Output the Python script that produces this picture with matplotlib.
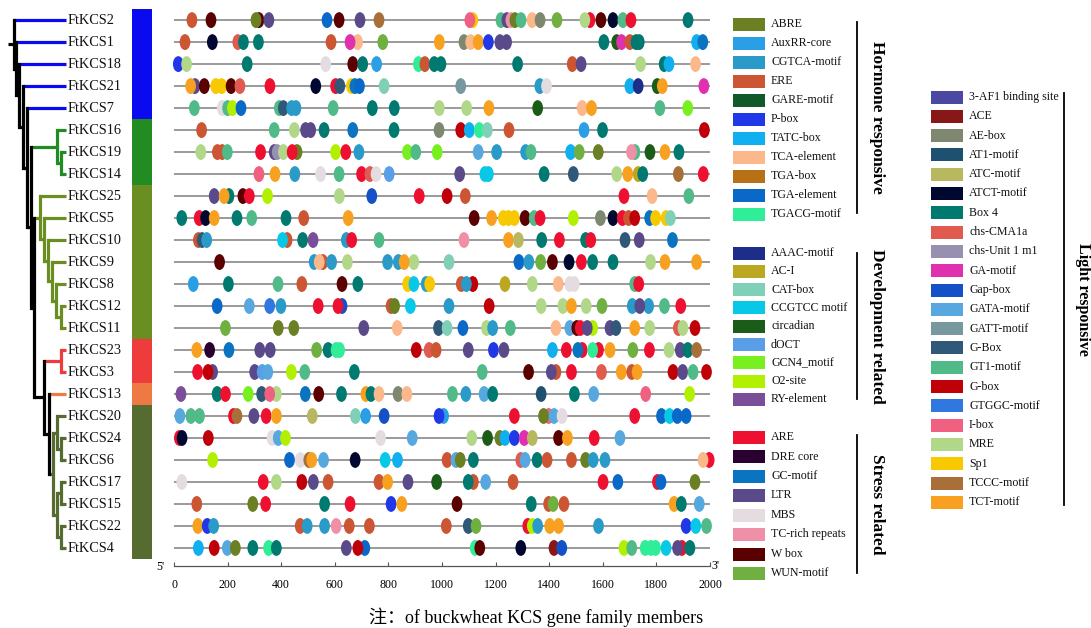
import matplotlib
matplotlib.use("Agg")
import matplotlib.pyplot as plt
from matplotlib.patches import Ellipse, Rectangle

plt.rcParams['font.family'] = ['Liberation Serif', 'Noto Sans CJK SC']

# ---------------------------------------------------------------- genes
genes = ["FtKCS2", "FtKCS1", "FtKCS18", "FtKCS21", "FtKCS7", "FtKCS16",
         "FtKCS19", "FtKCS14", "FtKCS25", "FtKCS5", "FtKCS10", "FtKCS9",
         "FtKCS8", "FtKCS12", "FtKCS11", "FtKCS23", "FtKCS3", "FtKCS13",
         "FtKCS20", "FtKCS24", "FtKCS6", "FtKCS17", "FtKCS15", "FtKCS22",
         "FtKCS4"]

# subfamily groups (gene counts) and their colours
group_sizes = [5, 3, 7, 2, 1, 7]
group_colors = ["#0a0af0", "#228b22", "#6b8e23", "#ee3b3b", "#ee7942", "#556b2f"]

# ---------------------------------------------------------------- element classes
hormone_names = ["ABRE", "AuxRR-core", "CGTCA-motif", "ERE", "GARE-motif", "P-box",
                 "TATC-box", "TCA-element", "TGA-box", "TGA-element", "TGACG-motif"]
hormone_colors = ["#6b7f23", "#2a9fe6", "#2a9bc8", "#cc5533", "#0f5a28", "#2038e8",
                  "#10aff0", "#fbb88a", "#b87016", "#0a68c8", "#30ee98"]

develop_names = ["AAAC-motif", "AC-I", "CAT-box", "CCGTCC motif", "circadian", "dOCT",
                 "GCN4_motif", "O2-site", "RY-element"]
develop_colors = ["#1c2e8a", "#bba820", "#80d0b8", "#08c8e8", "#1a5c18", "#5a9ee8",
                  "#78f020", "#b0f000", "#7a4e98"]

stress_names = ["ARE", "DRE core", "GC-motif", "LTR", "MBS", "TC-rich repeats",
                "W box", "WUN-motif"]
stress_colors = ["#ee1030", "#2a0030", "#0a74c0", "#5a4a8a", "#e4dce0", "#f090a8",
                 "#5a0000", "#70b040"]

light_names = ["3-AF1 binding site", "ACE", "AE-box", "AT1-motif", "ATC-motif",
               "ATCT-motif", "Box 4", "chs-CMA1a", "chs-Unit 1 m1", "GA-motif",
               "Gap-box", "GATA-motif", "GATT-motif", "G-Box", "GT1-motif", "G-box",
               "GTGGC-motif", "I-box", "MRE", "Sp1", "TCCC-motif", "TCT-motif"]
light_colors = ["#4a48a0", "#881818", "#7e8870", "#1e5070", "#b8b860", "#000830",
                "#007a70", "#e05a50", "#9890b0", "#e030b0", "#1450c8", "#58a8e0",
                "#7898a0", "#305878", "#50ba88", "#c00008", "#3078e0", "#f06080",
                "#b0d888", "#f8c800", "#a87038", "#f8a020"]

# ---------------------------------------------------------------- promoter sites (position in bp, element)
sites_FtKCS2 = [(67, "ERE"), (138, "W box"), (317, "W box"), (306, "ABRE"), (354, "LTR"),
                (571, "TGA-element"), (616, "W box"), (694, "LTR"), (765, "TCCC-motif"),
                (1115, "Sp1"), (1104, "I-box"), (1220, "GT1-motif"), (1242, "LTR"),
                (1257, "TC-rich repeats"), (1272, "ABRE"), (1295, "GT1-motif"),
                (1336, "TCA-element"), (1366, "AE-box"), (1429, "WUN-motif"), (1552, "ARE"),
                (1533, "MRE"), (1593, "W box"), (1638, "ATCT-motif"), (1675, "GT1-motif"),
                (1705, "ARE"), (1918, "Box 4")]
sites_FtKCS1 = [(41, "ERE"), (143, "ATCT-motif"), (238, "chs-CMA1a"), (259, "Box 4"),
                (315, "Box 4"), (586, "ERE"), (685, "TCA-element"), (657, "GA-motif"),
                (779, "WUN-motif"), (990, "TCT-motif"), (1082, "AE-box"), (1107, "TCA-element"),
                (1135, "TCT-motif"), (1173, "P-box"), (1216, "LTR"), (1241, "LTR"),
                (1604, "Box 4"), (1652, "circadian"), (1670, "GA-motif"), (1701, "ERE"),
                (1724, "Box 4"), (1736, "Box 4"), (1950, "TATC-box"), (1973, "GC-motif")]
sites_FtKCS18 = [(16, "P-box"), (47, "MRE"), (273, "Box 4"), (566, "MBS"), (667, "W box"),
                 (704, "Box 4"), (756, "AuxRR-core"), (912, "TGACG-motif"), (936, "ERE"),
                 (971, "Box 4"), (996, "Box 4"), (1282, "Box 4"), (1486, "ERE"), (1519, "LTR"),
                 (1741, "MRE"), (1829, "Box 4"), (1847, "TATC-box"), (1946, "TCA-element")]
sites_FtKCS21 = [(78, "LTR"), (62, "TCT-motif"), (113, "W box"), (156, "Sp1"), (178, "Sp1"),
                 (213, "W box"), (246, "chs-CMA1a"), (358, "ARE"), (529, "ATCT-motif"),
                 (603, "ARE"), (619, "G-Box"), (662, "Sp1"), (675, "GC-motif"),
                 (692, "TGA-element"), (784, "CAT-box"), (1070, "GATT-motif"),
                 (1365, "CGTCA-motif"), (1390, "MBS"), (1701, "TATC-box"), (1732, "AAAC-motif"),
                 (1803, "circadian"), (1822, "TCT-motif"), (1977, "GA-motif")]
sites_FtKCS7 = [(76, "GT1-motif"), (180, "MBS"), (200, "GT1-motif"), (218, "O2-site"),
                (250, "TGA-element"), (393, "GT1-motif"), (408, "G-Box"), (439, "CGTCA-motif"),
                (455, "CGTCA-motif"), (594, "GT1-motif"), (740, "Box 4"), (822, "Box 4"),
                (990, "MRE"), (1092, "MRE"), (1175, "TCT-motif"), (1357, "circadian"),
                (1523, "TCA-element"), (1558, "TCT-motif"), (1813, "GT1-motif"),
                (1917, "GCN4_motif")]
sites_FtKCS16 = [(103, "ERE"), (374, "GT1-motif"), (449, "MRE"), (491, "LTR"), (510, "LTR"),
                 (560, "Box 4"), (667, "GC-motif"), (821, "Box 4"), (989, "AE-box"),
                 (1070, "G-box"), (1102, "TATC-box"), (1139, "TGACG-motif"), (1169, "CAT-box"),
                 (1250, "ERE"), (1530, "AuxRR-core"), (1599, "Box 4"), (1979, "G-box")]
sites_FtKCS19 = [(100, "MRE"), (162, "ERE"), (180, "ERE"), (199, "GT1-motif"), (323, "ARE"),
                 (374, "LTR"), (385, "chs-Unit 1 m1"), (408, "MRE"), (459, "ABRE"), (441, "ARE"),
                 (603, "O2-site"), (641, "ARE"), (690, "CGTCA-motif"), (871, "GCN4_motif"),
                 (902, "GT1-motif"), (982, "GCN4_motif"), (1135, "GATA-motif"),
                 (1204, "CGTCA-motif"), (1312, "CGTCA-motif"), (1332, "GT1-motif"),
                 (1480, "TATC-box"), (1512, "WUN-motif"), (1583, "ABRE"), (1720, "GT1-motif"),
                 (1707, "TC-rich repeats"), (1776, "circadian"), (1832, "TCT-motif"),
                 (1884, "Box 4")]
sites_FtKCS14 = [(317, "I-box"), (377, "TCT-motif"), (451, "CGTCA-motif"), (547, "MBS"),
                 (616, "GT1-motif"), (700, "ARE"), (731, "chs-CMA1a"), (754, "MBS"),
                 (803, "dOCT"), (1066, "LTR"), (1160, "CCGTCC motif"), (1173, "CCGTCC motif"),
                 (1381, "Box 4"), (1490, "G-Box"), (1652, "MRE"), (1693, "TCT-motif"),
                 (1732, "AC-I"), (1749, "Box 4"), (1882, "TCCC-motif"), (1975, "ARE")]
sites_FtKCS25 = [(150, "LTR"), (205, "Box 4"), (187, "TCT-motif"), (257, "W box"), (281, "ARE"),
                 (349, "O2-site"), (617, "MRE"), (738, "Gap-box"), (915, "ARE"), (1019, "G-box"),
                 (1087, "ERE"), (1679, "ARE"), (1784, "TCA-element"), (1921, "GT1-motif")]
sites_FtKCS5 = [(29, "Box 4"), (94, "ARE"), (118, "ATCT-motif"), (150, "TCT-motif"),
                (235, "Box 4"), (290, "GT1-motif"), (418, "Box 4"), (484, "ERE"),
                (650, "TCT-motif"), (1120, "W box"), (1185, "TCT-motif"), (1229, "Sp1"),
                (1248, "Sp1"), (1270, "Sp1"), (1310, "W box"), (1344, "GT1-motif"), (1366, "ARE"),
                (1490, "O2-site"), (1591, "AE-box"), (1638, "ATCT-motif"), (1673, "ARE"),
                (1696, "ERE"), (1719, "G-box"), (1775, "GC-motif"), (1797, "Sp1"),
                (1836, "Sp1"), (1852, "CAT-box")]
sites_FtKCS10 = [(91, "ERE"), (105, "G-Box"), (122, "CGTCA-motif"), (422, "ERE"),
                 (405, "CCGTCC motif"), (480, "Box 4"), (519, "RY-element"),
                 (643, "CGTCA-motif"), (663, "ARE"), (765, "GT1-motif"), (1082, "TC-rich repeats"),
                 (1248, "TCT-motif"), (1285, "ATC-motif"), (1372, "Box 4"), (1438, "ARE"),
                 (1536, "Box 4"), (1555, "ARE"), (1683, "G-Box"), (1736, "LTR"), (1860, "GC-motif")]
sites_FtKCS9 = [(170, "W box"), (523, "CGTCA-motif"), (555, "ERE"), (542, "TCA-element"),
                (588, "CGTCA-motif"), (647, "MRE"), (797, "CGTCA-motif"), (837, "CGTCA-motif"),
                (895, "MRE"), (859, "TCT-motif"), (1026, "CAT-box"), (1287, "TGA-element"),
                (1324, "CGTCA-motif"), (1368, "WUN-motif"), (1412, "W box"), (1474, "ATCT-motif"),
                (1520, "ARE"), (1562, "Box 4"), (1638, "Box 4"), (1778, "MRE"),
                (1832, "TCT-motif"), (1950, "TCT-motif")]
sites_FtKCS8 = [(72, "AuxRR-core"), (203, "Box 4"), (388, "GT1-motif"), (477, "ERE"),
                (627, "W box"), (686, "Box 4"), (872, "Sp1"), (895, "CCGTCC motif"),
                (941, "CGTCA-motif"), (954, "Sp1"), (1115, "G-box"), (1072, "ERE"),
                (1091, "CGTCA-motif"), (1235, "AC-I"), (1337, "MRE"), (1434, "TCA-element"),
                (1477, "MBS"), (1494, "MBS"), (1719, "GT1-motif"), (1734, "ARE")]
sites_FtKCS12 = [(161, "TGA-element"), (281, "GATA-motif"), (357, "GTGGC-motif"),
                 (399, "CGTCA-motif"), (538, "ARE"), (627, "Gap-box"), (612, "ARE"),
                 (810, "ERE"), (823, "ABRE"), (882, "CCGTCC motif"), (1026, "CGTCA-motif"),
                 (1176, "G-box"), (1370, "MRE"), (1451, "MRE"), (1483, "TCT-motif"),
                 (1538, "MRE"), (1597, "WUN-motif"), (1710, "CGTCA-motif"), (1771, "CGTCA-motif"),
                 (1738, "LTR"), (1830, "GT1-motif"), (1891, "ARE")]
sites_FtKCS11 = [(192, "WUN-motif"), (389, "ABRE"), (447, "ABRE"), (708, "LTR"),
                 (833, "TCA-element"), (987, "G-Box"), (1019, "CAT-box"), (1078, "TGA-element"),
                 (1166, "MRE"), (1189, "CGTCA-motif"), (1255, "GT1-motif"), (1425, "TCA-element"),
                 (1477, "GATA-motif"), (1503, "W box"), (1516, "ARE"), (1562, "O2-site"),
                 (1542, "LTR"), (1627, "LTR"), (1649, "G-Box"), (1719, "TCT-motif"),
                 (1775, "MRE"), (1882, "chs-CMA1a"), (1899, "MRE"), (1944, "G-box")]
sites_FtKCS23 = [(85, "TCT-motif"), (133, "DRE core"), (205, "GC-motif"), (320, "LTR"),
                 (359, "LTR"), (532, "WUN-motif"), (575, "Box 4"), (605, "TGACG-motif"),
                 (618, "TGACG-motif"), (904, "G-box"), (952, "chs-CMA1a"), (978, "ERE"),
                 (1098, "LTR"), (1192, "P-box"), (1231, "LTR"), (1412, "TATC-box"), (1464, "ARE"),
                 (1523, "ARE"), (1507, "GC-motif"), (1584, "ARE"), (1562, "TGACG-motif"),
                 (1627, "TCT-motif"), (1712, "WUN-motif"), (1774, "ARE"), (1847, "MRE"),
                 (1889, "LTR"), (1917, "Box 4"), (1950, "TCCC-motif")]
sites_FtKCS3 = [(88, "ARE"), (144, "LTR"), (127, "G-box"), (301, "LTR"), (329, "dOCT"),
                (350, "GATA-motif"), (438, "O2-site"), (488, "GT1-motif"), (673, "Box 4"),
                (1150, "GT1-motif"), (1323, "W box"), (1425, "ERE"), (1408, "LTR"), (1483, "ARE"),
                (1595, "chs-CMA1a"), (1669, "TCT-motif"), (1708, "ERE"), (1728, "TCT-motif"),
                (1862, "G-box"), (1898, "LTR"), (1937, "GT1-motif"), (1987, "G-box")]
sites_FtKCS13 = [(26, "RY-element"), (161, "Box 4"), (192, "ARE"), (277, "GCN4_motif"),
                 (327, "G-Box"), (382, "MRE"), (357, "I-box"), (490, "GC-motif"), (540, "W box"),
                 (625, "Box 4"), (716, "TCT-motif"), (735, "Box 4"), (765, "TCA-element"),
                 (836, "AE-box"), (869, "TCA-element"), (1039, "GT1-motif"), (1089, "CGTCA-motif"),
                 (1157, "GATA-motif"), (1189, "Box 4"), (1370, "AT1-motif"), (1494, "Box 4"),
                 (1566, "GATA-motif"), (1760, "I-box"), (1924, "O2-site")]
sites_FtKCS20 = [(22, "GATA-motif"), (63, "GT1-motif"), (95, "GT1-motif"), (222, "ARE"),
                 (235, "TCCC-motif"), (298, "LTR"), (344, "ARE"), (382, "TCT-motif"),
                 (516, "ATC-motif"), (677, "CAT-box"), (715, "AuxRR-core"), (784, "Gap-box"),
                 (1006, "AuxRR-core"), (989, "P-box"), (1270, "ARE"), (1398, "I-box"),
                 (1379, "ABRE"), (1418, "GATA-motif"), (1448, "MBS"), (1719, "ARE"),
                 (1819, "TGA-element"), (1849, "CCGTCC motif"), (1878, "TGA-element"),
                 (1911, "TGA-element")]
sites_FtKCS24 = [(20, "ARE"), (30, "ATCT-motif"), (128, "G-box"), (366, "MBS"),
                 (389, "GATA-motif"), (416, "O2-site"), (771, "MBS"), (889, "GATA-motif"),
                 (1111, "MRE"), (1170, "circadian"), (1216, "ABRE"), (1235, "TATC-box"),
                 (1270, "P-box"), (1307, "GA-motif"), (1337, "ATC-motif"), (1435, "W box"),
                 (1468, "TCT-motif"), (1568, "ARE"), (1664, "GATA-motif")]
sites_FtKCS6 = [(144, "O2-site"), (431, "TGA-element"), (471, "MBS"), (503, "TCCC-motif"),
                (514, "TCT-motif"), (558, "GATA-motif"), (676, "ATCT-motif"),
                (788, "CCGTCC motif"), (834, "TATC-box"), (1019, "ERE"), (1052, "GATA-motif"),
                (1068, "ABRE"), (1117, "Box 4"), (1294, "chs-CMA1a"), (1310, "GATA-motif"),
                (1355, "Box 4"), (1392, "ERE"), (1483, "ERE"), (1536, "ABRE"),
                (1564, "CGTCA-motif"), (1608, "CGTCA-motif"), (1997, "ARE"), (1974, "TCA-element")]
sites_FtKCS17 = [(29, "MBS"), (333, "ARE"), (382, "MRE"), (477, "G-box"), (520, "LTR"),
                 (575, "ERE"), (765, "ERE"), (797, "TCT-motif"), (873, "LTR"), (980, "circadian"),
                 (1117, "ERE"), (1098, "Box 4"), (1163, "GATA-motif"), (1265, "ERE"),
                 (1601, "ARE"), (1656, "TGA-element"), (1804, "ARE"), (1817, "TGA-element"),
                 (1944, "ABRE")]
sites_FtKCS15 = [(85, "ERE"), (294, "ABRE"), (342, "ARE"), (562, "Box 4"), (657, "ARE"),
                 (810, "P-box"), (850, "TCT-motif"), (1056, "W box"), (1333, "Box 4"),
                 (1398, "ERE"), (1415, "WUN-motif"), (1455, "ERE"), (1866, "TCT-motif"),
                 (1893, "Box 4"), (1960, "GATA-motif")]
sites_FtKCS22 = [(89, "TCT-motif"), (124, "P-box"), (148, "CGTCA-motif"), (471, "ERE"),
                 (497, "CGTCA-motif"), (562, "CGTCA-motif"), (605, "TC-rich repeats"),
                 (654, "ERE"), (729, "ERE"), (1016, "ERE"), (1098, "G-Box"), (1127, "WUN-motif"),
                 (1320, "ARE"), (1337, "O2-site"), (1357, "CGTCA-motif"), (1402, "TCT-motif"),
                 (1435, "TCT-motif"), (1584, "CGTCA-motif"), (1911, "P-box"),
                 (1947, "CCGTCC motif"), (1987, "GT1-motif")]
sites_FtKCS4 = [(91, "TATC-box"), (150, "G-box"), (199, "GATA-motif"), (229, "ABRE"),
                (294, "Box 4"), (353, "TGACG-motif"), (382, "Box 4"), (643, "LTR"),
                (712, "TGA-element"), (686, "G-box"), (1124, "TGACG-motif"), (1141, "W box"),
                (1294, "ATCT-motif"), (1418, "ACE"), (1447, "Gap-box"), (1679, "O2-site"),
                (1708, "GT1-motif"), (1758, "TGACG-motif"), (1780, "TGACG-motif"),
                (1797, "TGACG-motif"), (1836, "CCGTCC motif"), (1895, "ARE"), (1879, "LTR"),
                (1925, "Box 4")]

gene_sites = [sites_FtKCS2, sites_FtKCS1, sites_FtKCS18, sites_FtKCS21, sites_FtKCS7,
              sites_FtKCS16, sites_FtKCS19, sites_FtKCS14, sites_FtKCS25, sites_FtKCS5,
              sites_FtKCS10, sites_FtKCS9, sites_FtKCS8, sites_FtKCS12, sites_FtKCS11,
              sites_FtKCS23, sites_FtKCS3, sites_FtKCS13, sites_FtKCS20, sites_FtKCS24,
              sites_FtKCS6, sites_FtKCS17, sites_FtKCS15, sites_FtKCS22, sites_FtKCS4]

x_ticks = [0, 200, 400, 600, 800, 1000, 1200, 1400, 1600, 1800, 2000]
seq_length = 2000

# ---------------------------------------------------------------- phylogeny
# internal node = (x position in px, colour, child, child); leaves are gene names
BK = "black"
GR, OL, RD, DO = "#228b22", "#6b8e23", "#ee3b3b", "#556b2f"
clade_green = (57, GR, "FtKCS16", (61, GR, "FtKCS19", "FtKCS14"))
clade_olive = (40, OL, "FtKCS25",
               (44, OL, "FtKCS5",
                (48, OL, "FtKCS10",
                 (52, OL, "FtKCS9",
                  (56, OL, "FtKCS8",
                   (61, OL, "FtKCS12", "FtKCS11"))))))
clade_red = (61, RD, "FtKCS23", "FtKCS3")
clade_dark = (53, DO,
              (57, DO, "FtKCS20", (61, DO, "FtKCS24", "FtKCS6")),
              (57, DO, (61, DO, "FtKCS17", "FtKCS15"), (61, DO, "FtKCS22", "FtKCS4")))
node8 = (49, BK, "FtKCS13", clade_dark)
node7 = (44, BK, clade_red, node8)
node6 = (34, BK, clade_olive, node7)
node5 = (31, BK, clade_green, node6)
node4 = (27, BK, "FtKCS7", node5)
node3 = (23, BK, "FtKCS21", node4)
node2 = (19, BK, "FtKCS18", node3)
node1 = (16, BK, "FtKCS1", node2)
tree = (14, BK, "FtKCS2", node1)

# ---------------------------------------------------------------- figure
W, H = 1091, 628
fig = plt.figure(figsize=(W / 100, H / 100), dpi=100)
bg = fig.add_axes([0, 0, 1, 1])
bg.set_xlim(0, W)
bg.set_ylim(H, 0)
bg.axis("off")

row_top, row_step = 20, 22


def row_y(i):
    return row_top + row_step * i


leaf_color = {}
idx = 0
for size, col in zip(group_sizes, group_colors):
    for g in genes[idx:idx + size]:
        leaf_color[g] = col
    idx += size

tree_lw = 2.3
leaf_end = 66


def draw_node(node, parent_x):
    if isinstance(node, str):
        y = row_y(genes.index(node))
        bg.plot([parent_x, leaf_end], [y, y], color=leaf_color[node], lw=tree_lw,
                solid_capstyle="butt")
        return y
    x, col, a, b = node
    ya = draw_node(a, x)
    yb = draw_node(b, x)
    bg.plot([x, x], [ya, yb], color=col, lw=tree_lw, solid_capstyle="projecting")
    y = (ya + yb) / 2
    if parent_x is not None:
        bg.plot([parent_x, x], [y, y], color=col, lw=tree_lw, solid_capstyle="butt")
    return y


root_y = draw_node(tree, None)
bg.plot([8, tree[0]], [root_y, root_y], color=BK, lw=tree_lw, solid_capstyle="butt")

for i, g in enumerate(genes):
    bg.text(68, row_y(i), g, fontsize=10.3, va="center", ha="left", color="#111111")

# subfamily colour bar
idx = 0
for size, col in zip(group_sizes, group_colors):
    top = row_y(idx) - row_step / 2
    bg.add_patch(Rectangle((132, top), 20, size * row_step, color=col, lw=0))
    idx += size

# ---------------------------------------------------------------- promoter tracks
ax = fig.add_axes([174 / W, 1 - 566 / H, (710 - 174) / W, (566 - 8) / H])
ax.set_xlim(0, seq_length)
ax.set_ylim(24.82, -0.55)
for s in ["top", "left", "right"]:
    ax.spines[s].set_visible(False)
ax.spines["bottom"].set_color("#555555")
ax.spines["bottom"].set_linewidth(0.9)
ax.set_yticks([])
ax.set_xticks(x_ticks)
ax.set_xticklabels([str(t) for t in x_ticks], fontsize=8.6)
ax.tick_params(axis="x", direction="in", length=3, width=0.8, color="#555555", pad=9)
ax.patch.set_alpha(0)

color_of = {}
for names, cols in [(hormone_names, hormone_colors), (develop_names, develop_colors),
                    (stress_names, stress_colors), (light_names, light_colors)]:
    color_of.update(dict(zip(names, cols)))

for i, sites in enumerate(gene_sites):
    ax.plot([0, seq_length], [i, i], color="#9a9a9a", lw=1.4, zorder=1)
    for pos, name in sites:
        ax.add_patch(Ellipse((pos, i), width=40, height=0.72, color=color_of[name],
                             lw=0, zorder=2, clip_on=False))

bg.text(160, 567, "5'", fontsize=8.6, ha="center", va="center")
bg.text(715, 566, "3'", fontsize=8.6, ha="center", va="center")


# ---------------------------------------------------------------- legends
def legend_block(names, cols, x0, y0, step, sw=32, sh=13, fs=8.6):
    for k, (n, c) in enumerate(zip(names, cols)):
        y = y0 + k * step
        bg.add_patch(Rectangle((x0, y - sh / 2), sw, sh, color=c, lw=0))
        bg.text(x0 + sw + 6, y, n, fontsize=fs, va="center", ha="left", color="#111111")


legend_block(hormone_names, hormone_colors, 733, 24, 19.0)
legend_block(develop_names, develop_colors, 733, 253, 18.3)
legend_block(stress_names, stress_colors, 733, 437, 19.5)
legend_block(light_names, light_colors, 931, 97, 19.3)


def bracket(x, y0, y1, label, tx, fs=12.5):
    bg.plot([x, x], [y0, y1], color="black", lw=1.3)
    bg.text(tx, (y0 + y1) / 2, label, rotation=270, fontsize=fs, fontweight="bold",
            ha="center", va="center")


bracket(857, 22, 213, "Hormone responsive", 877)
bracket(857, 253, 399, "Development related", 877)
bracket(857, 435, 573, "Stress related", 877)
bracket(1064, 93, 505, "Light responsive", 1083, fs=11.5)

bg.text(536, 617, "注：of buckwheat KCS gene family members", fontsize=13,
        ha="center", va="center")

fig.savefig("out.png", dpi=100)
